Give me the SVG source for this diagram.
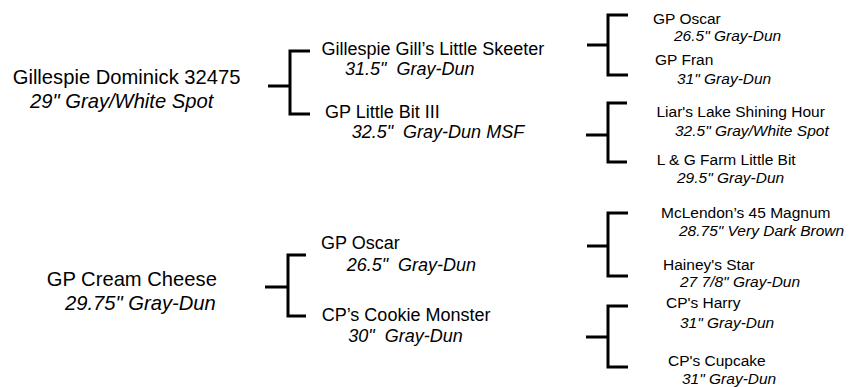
<svg xmlns="http://www.w3.org/2000/svg" width="850" height="387" viewBox="0 0 850 387">
<style>
text{font-family:"Liberation Sans",Arial,sans-serif;fill:#000}
.d{font-style:italic}
.l0{font-size:20.2px}
.l1{font-size:18px}
.l2{font-size:15.5px}
.br{fill:none;stroke:#000;stroke-width:3;stroke-linejoin:miter;stroke-linecap:butt}
</style>
<rect width="850" height="387" fill="#fff"/>
<g id="connectors">
<path class="br" d="M268,86H290M310,51H290V114H310"/>
<path class="br" d="M587,45H608M628,15H608V75H628"/>
<path class="br" d="M586,135H608M627,103H608V162H627"/>
<path class="br" d="M265,287H288M306,255H288V316H306"/>
<path class="br" d="M587,246H608M628,213H608V276H628"/>
<path class="br" d="M586,337H608M628,306H608V367H628"/>
</g>
<g id="n-gillespie-dominick" class="l0"><text x="12.7" y="84">Gillespie Dominick 32475</text><text class="d" x="30" y="108">29" Gray/White Spot</text></g>
<g id="n-gillespie-gill" class="l1"><text x="321.5" y="55">Gillespie Gill’s Little Skeeter</text><text class="d" x="345" y="74.5" xml:space="preserve">31.5"  Gray-Dun</text></g>
<g id="n-gp-little-bit" class="l1"><text x="325" y="118">GP Little Bit III</text><text class="d" x="351.7" y="137.5" xml:space="preserve">32.5"  Gray-Dun MSF</text></g>
<g id="n-gp-oscar-1" class="l2"><text x="653" y="23.5">GP Oscar</text><text class="d" x="674" y="41">26.5" Gray-Dun</text></g>
<g id="n-gp-fran" class="l2"><text x="655" y="65">GP Fran</text><text class="d" x="677" y="84">31" Gray-Dun</text></g>
<g id="n-liars-lake" class="l2"><text x="656.5" y="117">Liar's Lake Shining Hour</text><text class="d" x="675" y="136">32.5" Gray/White Spot</text></g>
<g id="n-lg-farm" class="l2"><text x="656.7" y="164.5">L &amp; G Farm Little Bit</text><text class="d" x="677" y="183">29.5" Gray-Dun</text></g>
<g id="n-gp-cream-cheese" class="l0"><text x="46.7" y="286">GP Cream Cheese</text><text class="d" x="65" y="310">29.75" Gray-Dun</text></g>
<g id="n-gp-oscar-2" class="l1"><text x="321" y="249">GP Oscar</text><text class="d" x="346.7" y="271" xml:space="preserve">26.5"  Gray-Dun</text></g>
<g id="n-cookie-monster" class="l1"><text x="321.7" y="320.5">CP’s Cookie Monster</text><text class="d" x="348.3" y="342" xml:space="preserve">30"  Gray-Dun</text></g>
<g id="n-mclendon" class="l2"><text x="661" y="218">McLendon’s 45 Magnum</text><text class="d" x="679" y="236">28.75" Very Dark Brown</text></g>
<g id="n-hainey" class="l2"><text x="663" y="270">Hainey's Star</text><text class="d" x="680" y="287">27 7/8" Gray-Dun</text></g>
<g id="n-cp-harry" class="l2"><text x="666" y="308">CP's Harry</text><text class="d" x="680" y="328">31" Gray-Dun</text></g>
<g id="n-cp-cupcake" class="l2"><text x="668" y="366">CP's Cupcake</text><text class="d" x="682" y="384">31" Gray-Dun</text></g>
</svg>
